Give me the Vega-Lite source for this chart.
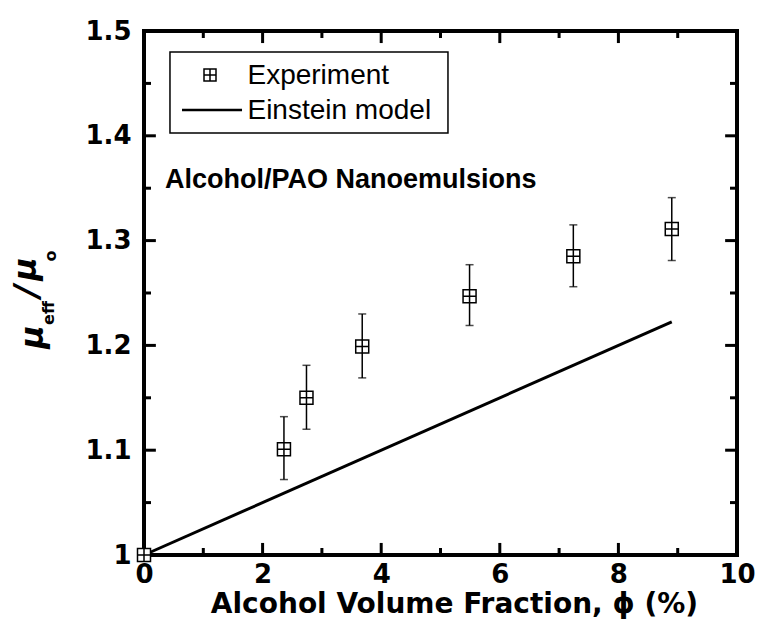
{
  "$schema": "https://vega.github.io/schema/vega-lite/v6.json",
  "width": 593,
  "height": 524,
  "autosize": "none",
  "padding": {"left": 144, "top": 31, "right": 23, "bottom": 67},
  "background": "white",
  "config": {
    "view": {"stroke": "black", "strokeWidth": 4},
    "axis": {"grid": false, "domain": false, "ticks": false, "labelColor": "black", "labelFont": "DejaVu Sans", "labelFontWeight": "bold", "labelFontSize": 26, "labelOverlap": false, "labelFlush": false}
  },
  "datasets": {
    "exp": [
      {"phi": 0, "mu": 1.0},
      {"phi": 2.36, "mu": 1.101, "lo": 1.072, "hi": 1.132},
      {"phi": 2.74, "mu": 1.150, "lo": 1.120, "hi": 1.181},
      {"phi": 3.68, "mu": 1.199, "lo": 1.169, "hi": 1.230},
      {"phi": 5.49, "mu": 1.247, "lo": 1.219, "hi": 1.277},
      {"phi": 7.24, "mu": 1.285, "lo": 1.256, "hi": 1.315},
      {"phi": 8.90, "mu": 1.311, "lo": 1.281, "hi": 1.341}
    ],
    "model": [
      {"phi": 0, "mu": 1.0},
      {"phi": 8.9, "mu": 1.2225}
    ],
    "xticks": [
      {"v": 1, "major": false}, {"v": 2, "major": true}, {"v": 3, "major": false}, {"v": 4, "major": true},
      {"v": 5, "major": false}, {"v": 6, "major": true}, {"v": 7, "major": false}, {"v": 8, "major": true}, {"v": 9, "major": false}
    ],
    "yticks": [
      {"v": 1.05, "major": false}, {"v": 1.1, "major": true}, {"v": 1.15, "major": false}, {"v": 1.2, "major": true},
      {"v": 1.25, "major": false}, {"v": 1.3, "major": true}, {"v": 1.35, "major": false}, {"v": 1.4, "major": true}, {"v": 1.45, "major": false}
    ],
    "one": [{"id": 1}]
  },
  "layer": [
    {
      "data": {"name": "exp"},
      "mark": {"type": "rule", "color": "black", "strokeWidth": 1.5},
      "encoding": {
        "x": {"field": "phi", "type": "quantitative", "scale": {"domain": [0, 10], "nice": false, "zero": false},
          "axis": {"orient": "bottom", "values": [0,2,4,6,8,10], "format": "d", "labelPadding": 6, "ticks": false, "title": "Alcohol Volume Fraction, ϕ (%)", "titleFont": "DejaVu Sans", "titleFontWeight": "bold", "titleFontSize": 28, "titleColor": "black", "titleX": 310, "titleY": 57, "titleBaseline": "alphabetic", "titleAlign": "center"}},
        "y": {"field": "lo", "type": "quantitative", "scale": {"domain": [1, 1.5], "nice": false, "zero": false},
          "axis": {"orient": "left", "values": [1,1.1,1.2,1.3,1.4,1.5], "labelExpr": "datum.value === 1 ? '1' : format(datum.value, '.1f')", "labelPadding": 13, "ticks": false, "title": null}},
        "y2": {"field": "hi"}
      }
    },
    {
      "data": {"name": "xticks"},
      "transform": [{"filter": "datum.major"}],
      "mark": {"type": "rule", "color": "black", "strokeWidth": 3},
      "encoding": {
        "x": {"field": "v", "type": "quantitative", "scale": {"domain": [0, 10], "nice": false, "zero": false},
          "axis": {"orient": "bottom", "values": [0,2,4,6,8,10], "format": "d", "labelPadding": 6, "ticks": false, "title": "Alcohol Volume Fraction, ϕ (%)", "titleFont": "DejaVu Sans", "titleFontWeight": "bold", "titleFontSize": 28, "titleColor": "black", "titleX": 310, "titleY": 57, "titleBaseline": "alphabetic", "titleAlign": "center"}},
        "y": {"datum": 1.0, "type": "quantitative", "scale": {"domain": [1, 1.5], "nice": false, "zero": false},
          "axis": {"orient": "left", "values": [1,1.1,1.2,1.3,1.4,1.5], "labelExpr": "datum.value === 1 ? '1' : format(datum.value, '.1f')", "labelPadding": 13, "ticks": false, "title": null}},
        "y2": {"datum": 1.0115}
      }
    },
    {
      "data": {"name": "xticks"},
      "transform": [{"filter": "!datum.major"}],
      "mark": {"type": "rule", "color": "black", "strokeWidth": 3},
      "encoding": {
        "x": {"field": "v", "type": "quantitative", "scale": {"domain": [0, 10], "nice": false, "zero": false},
          "axis": {"orient": "bottom", "values": [0,2,4,6,8,10], "format": "d", "labelPadding": 6, "ticks": false, "title": "Alcohol Volume Fraction, ϕ (%)", "titleFont": "DejaVu Sans", "titleFontWeight": "bold", "titleFontSize": 28, "titleColor": "black", "titleX": 310, "titleY": 57, "titleBaseline": "alphabetic", "titleAlign": "center"}},
        "y": {"datum": 1.0, "type": "quantitative", "scale": {"domain": [1, 1.5], "nice": false, "zero": false},
          "axis": {"orient": "left", "values": [1,1.1,1.2,1.3,1.4,1.5], "labelExpr": "datum.value === 1 ? '1' : format(datum.value, '.1f')", "labelPadding": 13, "ticks": false, "title": null}},
        "y2": {"datum": 1.0067}
      }
    },
    {
      "data": {"name": "xticks"},
      "transform": [{"filter": "datum.major"}],
      "mark": {"type": "rule", "color": "black", "strokeWidth": 3},
      "encoding": {
        "x": {"field": "v", "type": "quantitative", "scale": {"domain": [0, 10], "nice": false, "zero": false},
          "axis": {"orient": "bottom", "values": [0,2,4,6,8,10], "format": "d", "labelPadding": 6, "ticks": false, "title": "Alcohol Volume Fraction, ϕ (%)", "titleFont": "DejaVu Sans", "titleFontWeight": "bold", "titleFontSize": 28, "titleColor": "black", "titleX": 310, "titleY": 57, "titleBaseline": "alphabetic", "titleAlign": "center"}},
        "y": {"datum": 1.5, "type": "quantitative", "scale": {"domain": [1, 1.5], "nice": false, "zero": false},
          "axis": {"orient": "left", "values": [1,1.1,1.2,1.3,1.4,1.5], "labelExpr": "datum.value === 1 ? '1' : format(datum.value, '.1f')", "labelPadding": 13, "ticks": false, "title": null}},
        "y2": {"datum": 1.4885}
      }
    },
    {
      "data": {"name": "xticks"},
      "transform": [{"filter": "!datum.major"}],
      "mark": {"type": "rule", "color": "black", "strokeWidth": 3},
      "encoding": {
        "x": {"field": "v", "type": "quantitative", "scale": {"domain": [0, 10], "nice": false, "zero": false},
          "axis": {"orient": "bottom", "values": [0,2,4,6,8,10], "format": "d", "labelPadding": 6, "ticks": false, "title": "Alcohol Volume Fraction, ϕ (%)", "titleFont": "DejaVu Sans", "titleFontWeight": "bold", "titleFontSize": 28, "titleColor": "black", "titleX": 310, "titleY": 57, "titleBaseline": "alphabetic", "titleAlign": "center"}},
        "y": {"datum": 1.5, "type": "quantitative", "scale": {"domain": [1, 1.5], "nice": false, "zero": false},
          "axis": {"orient": "left", "values": [1,1.1,1.2,1.3,1.4,1.5], "labelExpr": "datum.value === 1 ? '1' : format(datum.value, '.1f')", "labelPadding": 13, "ticks": false, "title": null}},
        "y2": {"datum": 1.4933}
      }
    },
    {
      "data": {"name": "yticks"},
      "transform": [{"filter": "datum.major"}],
      "mark": {"type": "rule", "color": "black", "strokeWidth": 3},
      "encoding": {
        "y": {"field": "v", "type": "quantitative", "scale": {"domain": [1, 1.5], "nice": false, "zero": false},
          "axis": {"orient": "left", "values": [1,1.1,1.2,1.3,1.4,1.5], "labelExpr": "datum.value === 1 ? '1' : format(datum.value, '.1f')", "labelPadding": 13, "ticks": false, "title": null}},
        "x": {"datum": 0, "type": "quantitative", "scale": {"domain": [0, 10], "nice": false, "zero": false},
          "axis": {"orient": "bottom", "values": [0,2,4,6,8,10], "format": "d", "labelPadding": 6, "ticks": false, "title": "Alcohol Volume Fraction, ϕ (%)", "titleFont": "DejaVu Sans", "titleFontWeight": "bold", "titleFontSize": 28, "titleColor": "black", "titleX": 310, "titleY": 57, "titleBaseline": "alphabetic", "titleAlign": "center"}},
        "x2": {"datum": 0.2}
      }
    },
    {
      "data": {"name": "yticks"},
      "transform": [{"filter": "!datum.major"}],
      "mark": {"type": "rule", "color": "black", "strokeWidth": 3},
      "encoding": {
        "y": {"field": "v", "type": "quantitative", "scale": {"domain": [1, 1.5], "nice": false, "zero": false},
          "axis": {"orient": "left", "values": [1,1.1,1.2,1.3,1.4,1.5], "labelExpr": "datum.value === 1 ? '1' : format(datum.value, '.1f')", "labelPadding": 13, "ticks": false, "title": null}},
        "x": {"datum": 0, "type": "quantitative", "scale": {"domain": [0, 10], "nice": false, "zero": false},
          "axis": {"orient": "bottom", "values": [0,2,4,6,8,10], "format": "d", "labelPadding": 6, "ticks": false, "title": "Alcohol Volume Fraction, ϕ (%)", "titleFont": "DejaVu Sans", "titleFontWeight": "bold", "titleFontSize": 28, "titleColor": "black", "titleX": 310, "titleY": 57, "titleBaseline": "alphabetic", "titleAlign": "center"}},
        "x2": {"datum": 0.118}
      }
    },
    {
      "data": {"name": "yticks"},
      "transform": [{"filter": "datum.major"}],
      "mark": {"type": "rule", "color": "black", "strokeWidth": 3},
      "encoding": {
        "y": {"field": "v", "type": "quantitative", "scale": {"domain": [1, 1.5], "nice": false, "zero": false},
          "axis": {"orient": "left", "values": [1,1.1,1.2,1.3,1.4,1.5], "labelExpr": "datum.value === 1 ? '1' : format(datum.value, '.1f')", "labelPadding": 13, "ticks": false, "title": null}},
        "x": {"datum": 10, "type": "quantitative", "scale": {"domain": [0, 10], "nice": false, "zero": false},
          "axis": {"orient": "bottom", "values": [0,2,4,6,8,10], "format": "d", "labelPadding": 6, "ticks": false, "title": "Alcohol Volume Fraction, ϕ (%)", "titleFont": "DejaVu Sans", "titleFontWeight": "bold", "titleFontSize": 28, "titleColor": "black", "titleX": 310, "titleY": 57, "titleBaseline": "alphabetic", "titleAlign": "center"}},
        "x2": {"datum": 9.8}
      }
    },
    {
      "data": {"name": "yticks"},
      "transform": [{"filter": "!datum.major"}],
      "mark": {"type": "rule", "color": "black", "strokeWidth": 3},
      "encoding": {
        "y": {"field": "v", "type": "quantitative", "scale": {"domain": [1, 1.5], "nice": false, "zero": false},
          "axis": {"orient": "left", "values": [1,1.1,1.2,1.3,1.4,1.5], "labelExpr": "datum.value === 1 ? '1' : format(datum.value, '.1f')", "labelPadding": 13, "ticks": false, "title": null}},
        "x": {"datum": 10, "type": "quantitative", "scale": {"domain": [0, 10], "nice": false, "zero": false},
          "axis": {"orient": "bottom", "values": [0,2,4,6,8,10], "format": "d", "labelPadding": 6, "ticks": false, "title": "Alcohol Volume Fraction, ϕ (%)", "titleFont": "DejaVu Sans", "titleFontWeight": "bold", "titleFontSize": 28, "titleColor": "black", "titleX": 310, "titleY": 57, "titleBaseline": "alphabetic", "titleAlign": "center"}},
        "x2": {"datum": 9.882}
      }
    },
    {
      "data": {"name": "exp"},
      "mark": {"type": "tick", "orient": "horizontal", "color": "black", "size": 8, "thickness": 1.5},
      "encoding": {
        "x": {"field": "phi", "type": "quantitative", "scale": {"domain": [0, 10], "nice": false, "zero": false},
          "axis": {"orient": "bottom", "values": [0,2,4,6,8,10], "format": "d", "labelPadding": 6, "ticks": false, "title": "Alcohol Volume Fraction, ϕ (%)", "titleFont": "DejaVu Sans", "titleFontWeight": "bold", "titleFontSize": 28, "titleColor": "black", "titleX": 310, "titleY": 57, "titleBaseline": "alphabetic", "titleAlign": "center"}},
        "y": {"field": "lo", "type": "quantitative", "scale": {"domain": [1, 1.5], "nice": false, "zero": false},
          "axis": {"orient": "left", "values": [1,1.1,1.2,1.3,1.4,1.5], "labelExpr": "datum.value === 1 ? '1' : format(datum.value, '.1f')", "labelPadding": 13, "ticks": false, "title": null}}
      }
    },
    {
      "data": {"name": "exp"},
      "mark": {"type": "tick", "orient": "horizontal", "color": "black", "size": 8, "thickness": 1.5},
      "encoding": {
        "x": {"field": "phi", "type": "quantitative", "scale": {"domain": [0, 10], "nice": false, "zero": false},
          "axis": {"orient": "bottom", "values": [0,2,4,6,8,10], "format": "d", "labelPadding": 6, "ticks": false, "title": "Alcohol Volume Fraction, ϕ (%)", "titleFont": "DejaVu Sans", "titleFontWeight": "bold", "titleFontSize": 28, "titleColor": "black", "titleX": 310, "titleY": 57, "titleBaseline": "alphabetic", "titleAlign": "center"}},
        "y": {"field": "hi", "type": "quantitative", "scale": {"domain": [1, 1.5], "nice": false, "zero": false},
          "axis": {"orient": "left", "values": [1,1.1,1.2,1.3,1.4,1.5], "labelExpr": "datum.value === 1 ? '1' : format(datum.value, '.1f')", "labelPadding": 13, "ticks": false, "title": null}}
      }
    },
    {
      "data": {"name": "model"},
      "mark": {"type": "line", "color": "black", "strokeWidth": 3},
      "encoding": {
        "x": {"field": "phi", "type": "quantitative", "scale": {"domain": [0, 10], "nice": false, "zero": false},
          "axis": {"orient": "bottom", "values": [0,2,4,6,8,10], "format": "d", "labelPadding": 6, "ticks": false, "title": "Alcohol Volume Fraction, ϕ (%)", "titleFont": "DejaVu Sans", "titleFontWeight": "bold", "titleFontSize": 28, "titleColor": "black", "titleX": 310, "titleY": 57, "titleBaseline": "alphabetic", "titleAlign": "center"}},
        "y": {"field": "mu", "type": "quantitative", "scale": {"domain": [1, 1.5], "nice": false, "zero": false},
          "axis": {"orient": "left", "values": [1,1.1,1.2,1.3,1.4,1.5], "labelExpr": "datum.value === 1 ? '1' : format(datum.value, '.1f')", "labelPadding": 13, "ticks": false, "title": null}}
      }
    },
    {
      "data": {"name": "exp"},
      "mark": {"type": "point", "shape": "M-1,-1H1V1H-1Z M0,-1V1 M-1,0H1", "filled": false, "fill": "white", "fillOpacity": 1, "color": "black", "strokeWidth": 1.5, "size": 169, "opacity": 1},
      "encoding": {
        "x": {"field": "phi", "type": "quantitative", "scale": {"domain": [0, 10], "nice": false, "zero": false},
          "axis": {"orient": "bottom", "values": [0,2,4,6,8,10], "format": "d", "labelPadding": 6, "ticks": false, "title": "Alcohol Volume Fraction, ϕ (%)", "titleFont": "DejaVu Sans", "titleFontWeight": "bold", "titleFontSize": 28, "titleColor": "black", "titleX": 310, "titleY": 57, "titleBaseline": "alphabetic", "titleAlign": "center"}},
        "y": {"field": "mu", "type": "quantitative", "scale": {"domain": [1, 1.5], "nice": false, "zero": false},
          "axis": {"orient": "left", "values": [1,1.1,1.2,1.3,1.4,1.5], "labelExpr": "datum.value === 1 ? '1' : format(datum.value, '.1f')", "labelPadding": 13, "ticks": false, "title": null}}
      }
    },
    {
      "data": {"name": "one"},
      "mark": {"type": "rect", "fill": "white", "stroke": "black", "strokeWidth": 1.5},
      "encoding": {
        "x": {"datum": 0.438, "type": "quantitative", "scale": {"domain": [0, 10], "nice": false, "zero": false},
          "axis": {"orient": "bottom", "values": [0,2,4,6,8,10], "format": "d", "labelPadding": 6, "ticks": false, "title": "Alcohol Volume Fraction, ϕ (%)", "titleFont": "DejaVu Sans", "titleFontWeight": "bold", "titleFontSize": 28, "titleColor": "black", "titleX": 310, "titleY": 57, "titleBaseline": "alphabetic", "titleAlign": "center"}},
        "x2": {"datum": 5.126},
        "y": {"datum": 1.48, "type": "quantitative", "scale": {"domain": [1, 1.5], "nice": false, "zero": false},
          "axis": {"orient": "left", "values": [1,1.1,1.2,1.3,1.4,1.5], "labelExpr": "datum.value === 1 ? '1' : format(datum.value, '.1f')", "labelPadding": 13, "ticks": false, "title": null}},
        "y2": {"datum": 1.4027}
      }
    },
    {
      "data": {"name": "one"},
      "mark": {"type": "point", "shape": "M-1,-1H1V1H-1Z M0,-1V1 M-1,0H1", "filled": false, "color": "black", "strokeWidth": 1.5, "size": 144, "opacity": 1},
      "encoding": {
        "x": {"datum": 1.113, "type": "quantitative", "scale": {"domain": [0, 10], "nice": false, "zero": false},
          "axis": {"orient": "bottom", "values": [0,2,4,6,8,10], "format": "d", "labelPadding": 6, "ticks": false, "title": "Alcohol Volume Fraction, ϕ (%)", "titleFont": "DejaVu Sans", "titleFontWeight": "bold", "titleFontSize": 28, "titleColor": "black", "titleX": 310, "titleY": 57, "titleBaseline": "alphabetic", "titleAlign": "center"}},
        "y": {"datum": 1.458, "type": "quantitative", "scale": {"domain": [1, 1.5], "nice": false, "zero": false},
          "axis": {"orient": "left", "values": [1,1.1,1.2,1.3,1.4,1.5], "labelExpr": "datum.value === 1 ? '1' : format(datum.value, '.1f')", "labelPadding": 13, "ticks": false, "title": null}}
      }
    },
    {
      "data": {"name": "one"},
      "mark": {"type": "rule", "color": "black", "strokeWidth": 2.5},
      "encoding": {
        "x": {"datum": 0.641, "type": "quantitative", "scale": {"domain": [0, 10], "nice": false, "zero": false},
          "axis": {"orient": "bottom", "values": [0,2,4,6,8,10], "format": "d", "labelPadding": 6, "ticks": false, "title": "Alcohol Volume Fraction, ϕ (%)", "titleFont": "DejaVu Sans", "titleFontWeight": "bold", "titleFontSize": 28, "titleColor": "black", "titleX": 310, "titleY": 57, "titleBaseline": "alphabetic", "titleAlign": "center"}},
        "x2": {"datum": 1.653},
        "y": {"datum": 1.4246, "type": "quantitative", "scale": {"domain": [1, 1.5], "nice": false, "zero": false},
          "axis": {"orient": "left", "values": [1,1.1,1.2,1.3,1.4,1.5], "labelExpr": "datum.value === 1 ? '1' : format(datum.value, '.1f')", "labelPadding": 13, "ticks": false, "title": null}}
      }
    },
    {
      "data": {"name": "one"},
      "mark": {"type": "text", "text": "Experiment", "font": "Liberation Sans", "fontSize": 28, "color": "black", "align": "left", "baseline": "middle"},
      "encoding": {
        "x": {"datum": 1.745, "type": "quantitative", "scale": {"domain": [0, 10], "nice": false, "zero": false},
          "axis": {"orient": "bottom", "values": [0,2,4,6,8,10], "format": "d", "labelPadding": 6, "ticks": false, "title": "Alcohol Volume Fraction, ϕ (%)", "titleFont": "DejaVu Sans", "titleFontWeight": "bold", "titleFontSize": 28, "titleColor": "black", "titleX": 310, "titleY": 57, "titleBaseline": "alphabetic", "titleAlign": "center"}},
        "y": {"datum": 1.457, "type": "quantitative", "scale": {"domain": [1, 1.5], "nice": false, "zero": false},
          "axis": {"orient": "left", "values": [1,1.1,1.2,1.3,1.4,1.5], "labelExpr": "datum.value === 1 ? '1' : format(datum.value, '.1f')", "labelPadding": 13, "ticks": false, "title": null}}
      }
    },
    {
      "data": {"name": "one"},
      "mark": {"type": "text", "text": "Einstein model", "font": "Liberation Sans", "fontSize": 28, "color": "black", "align": "left", "baseline": "middle"},
      "encoding": {
        "x": {"datum": 1.745, "type": "quantitative", "scale": {"domain": [0, 10], "nice": false, "zero": false},
          "axis": {"orient": "bottom", "values": [0,2,4,6,8,10], "format": "d", "labelPadding": 6, "ticks": false, "title": "Alcohol Volume Fraction, ϕ (%)", "titleFont": "DejaVu Sans", "titleFontWeight": "bold", "titleFontSize": 28, "titleColor": "black", "titleX": 310, "titleY": 57, "titleBaseline": "alphabetic", "titleAlign": "center"}},
        "y": {"datum": 1.4235, "type": "quantitative", "scale": {"domain": [1, 1.5], "nice": false, "zero": false},
          "axis": {"orient": "left", "values": [1,1.1,1.2,1.3,1.4,1.5], "labelExpr": "datum.value === 1 ? '1' : format(datum.value, '.1f')", "labelPadding": 13, "ticks": false, "title": null}}
      }
    },
    {
      "data": {"name": "one"},
      "mark": {"type": "text", "text": "Alcohol/PAO Nanoemulsions", "font": "Liberation Sans", "fontWeight": "bold", "fontSize": 27, "color": "black", "align": "left", "baseline": "middle"},
      "encoding": {
        "x": {"datum": 0.354, "type": "quantitative", "scale": {"domain": [0, 10], "nice": false, "zero": false},
          "axis": {"orient": "bottom", "values": [0,2,4,6,8,10], "format": "d", "labelPadding": 6, "ticks": false, "title": "Alcohol Volume Fraction, ϕ (%)", "titleFont": "DejaVu Sans", "titleFontWeight": "bold", "titleFontSize": 28, "titleColor": "black", "titleX": 310, "titleY": 57, "titleBaseline": "alphabetic", "titleAlign": "center"}},
        "y": {"datum": 1.358, "type": "quantitative", "scale": {"domain": [1, 1.5], "nice": false, "zero": false},
          "axis": {"orient": "left", "values": [1,1.1,1.2,1.3,1.4,1.5], "labelExpr": "datum.value === 1 ? '1' : format(datum.value, '.1f')", "labelPadding": 13, "ticks": false, "title": null}}
      }
    },
    {
      "data": {"name": "one"},
      "mark": {"type": "text", "text": "μ", "font": "DejaVu Sans", "fontWeight": "bold", "fontStyle": "italic", "fontSize": 32, "color": "black", "align": "center", "baseline": "middle", "angle": 270},
      "encoding": {
        "x": {"datum": -1.869, "type": "quantitative", "scale": {"domain": [0, 10], "nice": false, "zero": false},
          "axis": {"orient": "bottom", "values": [0,2,4,6,8,10], "format": "d", "labelPadding": 6, "ticks": false, "title": "Alcohol Volume Fraction, ϕ (%)", "titleFont": "DejaVu Sans", "titleFontWeight": "bold", "titleFontSize": 28, "titleColor": "black", "titleX": 310, "titleY": 57, "titleBaseline": "alphabetic", "titleAlign": "center"}},
        "y": {"datum": 1.208, "type": "quantitative", "scale": {"domain": [1, 1.5], "nice": false, "zero": false},
          "axis": {"orient": "left", "values": [1,1.1,1.2,1.3,1.4,1.5], "labelExpr": "datum.value === 1 ? '1' : format(datum.value, '.1f')", "labelPadding": 13, "ticks": false, "title": null}}
      }
    },
    {
      "data": {"name": "one"},
      "mark": {"type": "text", "text": "eff", "font": "DejaVu Sans", "fontWeight": "bold", "fontSize": 16, "color": "black", "align": "center", "baseline": "middle", "angle": 270},
      "encoding": {
        "x": {"datum": -1.599, "type": "quantitative", "scale": {"domain": [0, 10], "nice": false, "zero": false},
          "axis": {"orient": "bottom", "values": [0,2,4,6,8,10], "format": "d", "labelPadding": 6, "ticks": false, "title": "Alcohol Volume Fraction, ϕ (%)", "titleFont": "DejaVu Sans", "titleFontWeight": "bold", "titleFontSize": 28, "titleColor": "black", "titleX": 310, "titleY": 57, "titleBaseline": "alphabetic", "titleAlign": "center"}},
        "y": {"datum": 1.2309, "type": "quantitative", "scale": {"domain": [1, 1.5], "nice": false, "zero": false},
          "axis": {"orient": "left", "values": [1,1.1,1.2,1.3,1.4,1.5], "labelExpr": "datum.value === 1 ? '1' : format(datum.value, '.1f')", "labelPadding": 13, "ticks": false, "title": null}}
      }
    },
    {
      "data": {"name": "one"},
      "mark": {"type": "text", "text": "/", "font": "DejaVu Sans", "fontWeight": "bold", "fontStyle": "italic", "fontSize": 34, "color": "black", "align": "center", "baseline": "middle", "angle": 270},
      "encoding": {
        "x": {"datum": -1.953, "type": "quantitative", "scale": {"domain": [0, 10], "nice": false, "zero": false},
          "axis": {"orient": "bottom", "values": [0,2,4,6,8,10], "format": "d", "labelPadding": 6, "ticks": false, "title": "Alcohol Volume Fraction, ϕ (%)", "titleFont": "DejaVu Sans", "titleFontWeight": "bold", "titleFontSize": 28, "titleColor": "black", "titleX": 310, "titleY": 57, "titleBaseline": "alphabetic", "titleAlign": "center"}},
        "y": {"datum": 1.2519, "type": "quantitative", "scale": {"domain": [1, 1.5], "nice": false, "zero": false},
          "axis": {"orient": "left", "values": [1,1.1,1.2,1.3,1.4,1.5], "labelExpr": "datum.value === 1 ? '1' : format(datum.value, '.1f')", "labelPadding": 13, "ticks": false, "title": null}}
      }
    },
    {
      "data": {"name": "one"},
      "mark": {"type": "text", "text": "μ", "font": "DejaVu Sans", "fontWeight": "bold", "fontStyle": "italic", "fontSize": 32, "color": "black", "align": "center", "baseline": "middle", "angle": 270},
      "encoding": {
        "x": {"datum": -1.987, "type": "quantitative", "scale": {"domain": [0, 10], "nice": false, "zero": false},
          "axis": {"orient": "bottom", "values": [0,2,4,6,8,10], "format": "d", "labelPadding": 6, "ticks": false, "title": "Alcohol Volume Fraction, ϕ (%)", "titleFont": "DejaVu Sans", "titleFontWeight": "bold", "titleFontSize": 28, "titleColor": "black", "titleX": 310, "titleY": 57, "titleBaseline": "alphabetic", "titleAlign": "center"}},
        "y": {"datum": 1.2729, "type": "quantitative", "scale": {"domain": [1, 1.5], "nice": false, "zero": false},
          "axis": {"orient": "left", "values": [1,1.1,1.2,1.3,1.4,1.5], "labelExpr": "datum.value === 1 ? '1' : format(datum.value, '.1f')", "labelPadding": 13, "ticks": false, "title": null}}
      }
    },
    {
      "data": {"name": "one"},
      "mark": {"type": "text", "text": "o", "font": "DejaVu Sans", "fontWeight": "bold", "fontSize": 16, "color": "black", "align": "center", "baseline": "middle", "angle": 270},
      "encoding": {
        "x": {"datum": -1.566, "type": "quantitative", "scale": {"domain": [0, 10], "nice": false, "zero": false},
          "axis": {"orient": "bottom", "values": [0,2,4,6,8,10], "format": "d", "labelPadding": 6, "ticks": false, "title": "Alcohol Volume Fraction, ϕ (%)", "titleFont": "DejaVu Sans", "titleFontWeight": "bold", "titleFontSize": 28, "titleColor": "black", "titleX": 310, "titleY": 57, "titleBaseline": "alphabetic", "titleAlign": "center"}},
        "y": {"datum": 1.2853, "type": "quantitative", "scale": {"domain": [1, 1.5], "nice": false, "zero": false},
          "axis": {"orient": "left", "values": [1,1.1,1.2,1.3,1.4,1.5], "labelExpr": "datum.value === 1 ? '1' : format(datum.value, '.1f')", "labelPadding": 13, "ticks": false, "title": null}}
      }
    }
  ]
}
